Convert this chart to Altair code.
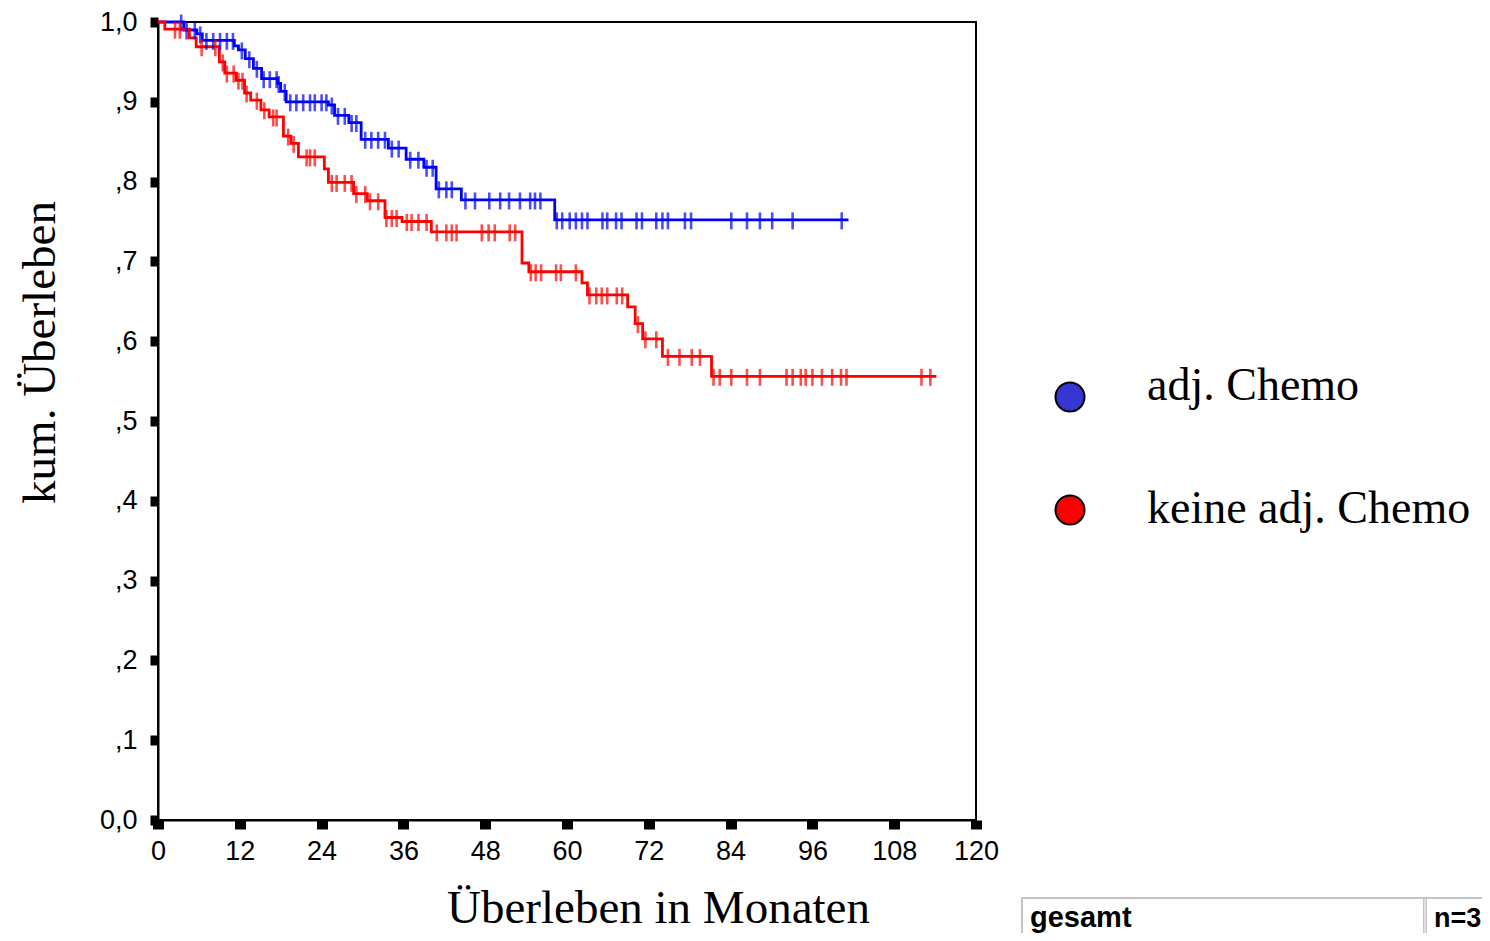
import altair as alt
import pandas as pd
import bisect

# Kaplan-Meier step data
blue_times = [0, 3.8, 5.7, 6.5, 11.2, 11.8, 12.8, 14.0, 15.2, 17.55, 18.0, 18.8, 25.0, 25.9,
              28.0, 29.8, 33.8, 36.4, 39.0, 40.8, 44.5, 58.2]
blue_surv = [1.0, 0.990, 0.985, 0.977, 0.970, 0.965, 0.954, 0.942, 0.929, 0.923, 0.913, 0.900,
             0.896, 0.883, 0.874, 0.853, 0.842, 0.828, 0.818, 0.791, 0.777, 0.752]
blue_end = 101.3
blue_cens = [3.4, 4.2, 5.4, 6.2, 7.1, 8.1, 9.1, 10.1, 11.0, 12.3, 13.4, 14.5, 15.5, 16.4, 17.4,
             17.7, 18.6, 19.4, 20.3, 21.3, 22.3, 23.0, 24.0, 24.7, 25.5, 26.4, 27.4, 28.4, 29.1,
             30.4, 31.3, 32.3, 33.3, 34.3, 35.3, 37.0, 38.2, 39.4, 40.3, 41.2, 42.3, 43.1, 45.1,
             46.5, 48.6, 50.2, 51.5, 53.1, 54.6, 55.3, 56.1, 58.5, 59.3, 60.4, 61.3, 62.2, 63.0,
             65.2, 65.9, 67.2, 68.0, 70.2, 71.0, 73.1, 74.0, 74.8, 77.3, 78.2, 84.1, 86.4, 88.3,
             90.1, 93.1, 100.3]

red_times = [0, 1.0, 4.6, 5.6, 9.0, 9.8, 11.5, 12.7, 13.6, 15.1, 16.3, 18.4, 19.5, 20.6, 24.4,
             25.0, 28.7, 30.7, 33.3, 35.8, 40.1, 53.4, 54.4, 62.2, 63.0, 68.9, 70.0, 71.1, 74.0, 81.2]
red_surv = [1.0, 0.991, 0.980, 0.969, 0.950, 0.936, 0.927, 0.911, 0.902, 0.890, 0.881, 0.857,
            0.848, 0.831, 0.816, 0.799, 0.785, 0.776, 0.755, 0.750, 0.737, 0.698, 0.687, 0.673,
            0.658, 0.643, 0.622, 0.603, 0.581, 0.556]
red_end = 114.2
red_cens = [2.5, 3.2, 6.4, 8.4, 9.5, 10.1, 11.1, 11.8, 12.4, 13.0, 14.5, 15.6, 16.9, 17.4, 19.1,
            19.9, 21.8, 22.3, 23.0, 25.5, 26.2, 27.4, 28.4, 29.1, 30.4, 31.1, 32.3, 33.5, 34.3,
            35.0, 36.5, 37.2, 38.2, 39.4, 40.9, 42.3, 43.1, 43.8, 47.5, 48.5, 49.4, 51.6, 52.4,
            54.7, 55.4, 56.2, 58.4, 59.1, 61.3, 63.3, 64.3, 65.1, 65.9, 67.3, 68.1, 70.4, 71.5,
            73.1, 74.8, 76.5, 78.3, 79.5, 81.5, 82.4, 84.1, 86.4, 88.3, 92.2, 93.1, 94.3, 95.0,
            96.0, 97.4, 98.9, 100.2, 101.0, 112.0, 113.3]

groups = ["adj. Chemo", "keine adj. Chemo"]
line_colors = ["#0000FF", "#FF0000"]
legend_fills = ["#3636D2", "#FF0000"]
table_labels = ["gesamt", "n=3"]

x_ticks = [0, 12, 24, 36, 48, 60, 72, 84, 96, 108, 120]
y_ticks = [0, 0.1, 0.2, 0.3, 0.4, 0.5, 0.6, 0.7, 0.8, 0.9, 1.0]


def steps(name, times, surv, end):
    rows = [{"group": name, "t": t, "s": s, "o": i} for i, (t, s) in enumerate(zip(times, surv))]
    rows.append({"group": name, "t": end, "s": surv[-1], "o": len(times)})
    return rows


def censored(name, times, surv, cens):
    out = []
    for c in cens:
        i = bisect.bisect_right(times, c) - 1
        out.append({"group": name, "t": c, "s": surv[i]})
    return out


line_df = pd.DataFrame(steps(groups[0], blue_times, blue_surv, blue_end)
                       + steps(groups[1], red_times, red_surv, red_end))
cens_df = pd.DataFrame(censored(groups[0], blue_times, blue_surv, blue_cens)
                       + censored(groups[1], red_times, red_surv, red_cens))

xscale = alt.Scale(domain=[0, 120], nice=False, zero=False)
yscale = alt.Scale(domain=[0, 1], nice=False)
cscale = alt.Scale(domain=groups, range=line_colors)

xaxis = alt.Axis(values=x_ticks, title="Überleben in Monaten", grid=False,
                 tickSize=9, tickWidth=11, tickColor="black", domainColor="black", domainWidth=2,
                 labelFont="Liberation Sans", labelFontSize=27, labelColor="black",
                 labelPadding=9, labelFlush=False,
                 titleFont="Liberation Serif", titleFontSize=47, titleFontWeight="normal",
                 titleColor="black", titleX=500, titleY=102, titleBaseline="alphabetic",
                 titleAlign="center")
yaxis = alt.Axis(values=y_ticks, title="kum. Überleben", grid=False,
                 tickSize=8, tickWidth=10, tickColor="black", domainColor="black", domainWidth=2,
                 labelFont="Liberation Sans", labelFontSize=27, labelColor="black",
                 labelPadding=13, labelFlush=False, labelBaseline="middle",
                 labelExpr="datum.value >= 1 ? '1,0' : (datum.value == 0 ? '0,0' : ',' + format(datum.value * 10, '.0f'))",
                 titleFont="Liberation Serif", titleFontSize=47, titleFontWeight="normal",
                 titleColor="black", titleX=-118, titleY=330, titleAngle=270,
                 titleBaseline="middle", titleAlign="center")

lines = alt.Chart(line_df).mark_line(interpolate="step-after", strokeWidth=2.8).encode(
    x=alt.X("t:Q", scale=xscale, axis=xaxis),
    y=alt.Y("s:Q", scale=yscale, axis=yaxis),
    color=alt.Color("group:N", scale=cscale, legend=None),
    order="o:Q",
    detail="group:N",
)

ticks = alt.Chart(cens_df).mark_tick(orient="vertical", size=17, thickness=2.6, yOffset=1).encode(
    x=alt.X("t:Q", scale=xscale),
    y=alt.Y("s:Q", scale=yscale),
    color=alt.Color("group:N", scale=cscale, legend=None),
)

# legend drawn by hand (circle + label per group)
legend_layers = []
for i, (g, f) in enumerate(zip(groups, legend_fills)):
    d = pd.DataFrame({"group": [g]})
    legend_layers.append(
        alt.Chart(d).mark_point(filled=True, shape="circle", size=841, fill=f, opacity=1,
                                stroke="black", strokeWidth=2).encode(
            x=alt.value(912), y=alt.value(375 + 113 * i)))
    legend_layers.append(
        alt.Chart(d).mark_text(font="Liberation Serif", fontSize=46, align="left",
                               baseline="alphabetic", color="black").encode(
            x=alt.value(989), y=alt.value(378 + 123 * i), text="group:N"))

# summary table box at the bottom right
box_df = pd.DataFrame({"label": table_labels})
box = alt.Chart(box_df.head(1)).mark_rect(fill="white", stroke="#C4C4C4", strokeWidth=2).encode(
    x=alt.value(864), x2=alt.value(1340), y=alt.value(876), y2=alt.value(917))
divider = alt.Chart(box_df.head(1)).mark_rule(stroke="#C4C4C4", strokeWidth=4).encode(
    x=alt.value(1267), y=alt.value(876), y2=alt.value(917))
divider_w = alt.Chart(box_df.head(1)).mark_rule(stroke="white", strokeWidth=1).encode(
    x=alt.value(1267), y=alt.value(877), y2=alt.value(916))
t1 = alt.Chart(pd.DataFrame({"label": [table_labels[0]]})).mark_text(
    font="Liberation Sans", fontSize=29, fontWeight="bold", align="left",
    baseline="alphabetic", color="black").encode(
    x=alt.value(872), y=alt.value(905), text="label:N")
t2 = alt.Chart(pd.DataFrame({"label": [table_labels[1]]})).mark_text(
    font="Liberation Sans", fontSize=27, fontWeight="bold", align="left",
    baseline="alphabetic", color="black").encode(
    x=alt.value(1276), y=alt.value(905), text="label:N")

chart = alt.layer(lines, ticks, *legend_layers, box, divider, divider_w, t1, t2).properties(
    width=818, height=798,
    autosize=alt.AutoSizeParams(type="none"),
    padding={"left": 150, "top": 14, "right": 506, "bottom": 113},
    background="white",
).configure_view(stroke="black", strokeWidth=2)

chart.save("out.html", embed_options={"renderer": "svg", "actions": False})
